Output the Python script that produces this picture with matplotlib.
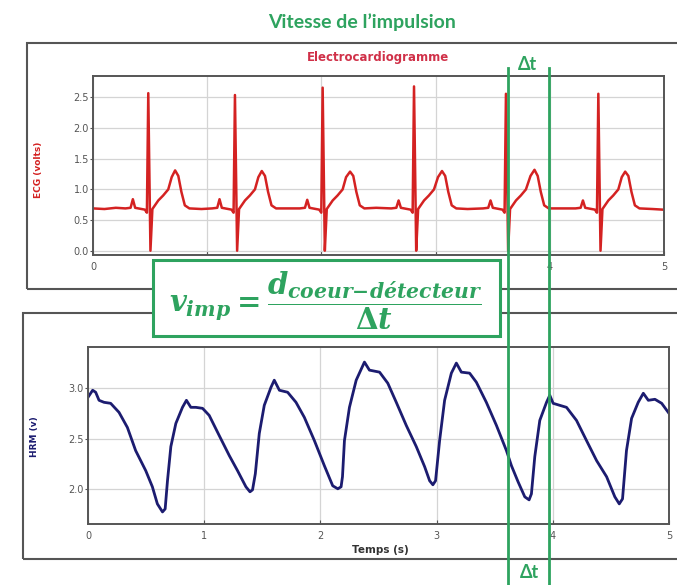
import matplotlib
matplotlib.use("Agg")
import matplotlib.pyplot as plt
from matplotlib.patches import Rectangle
from matplotlib.lines import Line2D

W, H = 677, 585

# ECG trace (s, volts), one row per heartbeat
ecg_t = [0.00, 0.10, 0.20,
         0.284, 0.329, 0.349, 0.369, 0.454, 0.472, 0.484, 0.503, 0.520, 0.572, 0.614, 0.659, 0.689, 0.719, 0.747, 0.774, 0.804, 0.844,
         0.95,
         1.043, 1.088, 1.108, 1.128, 1.213, 1.231, 1.243, 1.262, 1.279, 1.331, 1.373, 1.418, 1.448, 1.478, 1.506, 1.533, 1.563, 1.603,
         1.70,
         1.811, 1.856, 1.876, 1.896, 1.981, 1.999, 2.011, 2.030, 2.047, 2.099, 2.141, 2.186, 2.216, 2.251, 2.279, 2.306, 2.336, 2.376,
         2.48,
         2.611, 2.656, 2.676, 2.696, 2.781, 2.799, 2.811, 2.830, 2.847, 2.899, 2.941, 2.986, 3.021, 3.056, 3.084, 3.111, 3.141, 3.181,
         3.28,
         3.416, 3.461, 3.481, 3.501, 3.586, 3.604, 3.616, 3.635, 3.652, 3.704, 3.746, 3.791, 3.831, 3.866, 3.894, 3.921, 3.951, 3.991,
         4.08,
         4.225, 4.270, 4.290, 4.310, 4.395, 4.413, 4.425, 4.444, 4.461, 4.513, 4.555, 4.600, 4.630, 4.660, 4.688, 4.715, 4.745, 4.785,
         4.90, 4.99]
ecg_v = [0.69, 0.68, 0.70,
         0.69, 0.70, 0.84, 0.70, 0.67, 0.62, 2.57, 0.00, 0.68, 0.82, 0.90, 1.00, 1.20, 1.31, 1.22, 0.96, 0.74, 0.69,
         0.68,
         0.69, 0.70, 0.84, 0.70, 0.67, 0.62, 2.54, 0.00, 0.68, 0.82, 0.90, 1.00, 1.20, 1.30, 1.22, 0.96, 0.74, 0.69,
         0.69,
         0.69, 0.70, 0.83, 0.70, 0.67, 0.62, 2.66, 0.00, 0.68, 0.82, 0.90, 1.00, 1.20, 1.29, 1.22, 0.96, 0.74, 0.69,
         0.70,
         0.69, 0.70, 0.82, 0.70, 0.67, 0.62, 2.68, 0.00, 0.68, 0.82, 0.90, 1.00, 1.20, 1.30, 1.22, 0.96, 0.74, 0.69,
         0.68,
         0.69, 0.70, 0.82, 0.70, 0.67, 0.62, 2.56, 0.00, 0.68, 0.82, 0.90, 1.00, 1.22, 1.32, 1.22, 0.96, 0.74, 0.69,
         0.69,
         0.69, 0.70, 0.82, 0.70, 0.67, 0.62, 2.56, 0.00, 0.68, 0.82, 0.90, 1.00, 1.20, 1.29, 1.22, 0.96, 0.74, 0.69,
         0.68, 0.67]

# HRM (pulse sensor) trace (s, volts)
hrm_t = [0.00, 0.04, 0.066, 0.095, 0.138, 0.195, 0.267, 0.339, 0.41, 0.497, 0.554, 0.597, 0.641, 0.664,
         0.684, 0.713, 0.756, 0.813, 0.847, 0.885, 0.928, 0.986, 1.043, 1.129, 1.216, 1.287, 1.359, 1.394,
         1.416, 1.44, 1.474, 1.517, 1.575, 1.603, 1.647, 1.718, 1.79, 1.862, 1.948, 2.034, 2.106, 2.15,
         2.178, 2.19, 2.207, 2.25, 2.308, 2.379, 2.422, 2.509, 2.58, 2.653, 2.739, 2.825, 2.897, 2.94,
         2.968, 2.991, 3.026, 3.069, 3.127, 3.17, 3.213, 3.284, 3.342, 3.428, 3.515, 3.601, 3.644, 3.701,
         3.759, 3.796, 3.816, 3.845, 3.888, 3.946, 3.974, 4.003, 4.06, 4.118, 4.204, 4.29, 4.377, 4.463,
         4.534, 4.572, 4.60, 4.634, 4.678, 4.735, 4.779, 4.822, 4.879, 4.937, 5.00]
hrm_v = [2.91, 2.98, 2.96, 2.88, 2.86, 2.85, 2.76, 2.61, 2.38, 2.18, 2.02, 1.85, 1.77, 1.80,
         2.08, 2.42, 2.65, 2.81, 2.88, 2.81, 2.81, 2.80, 2.73, 2.53, 2.33, 2.18, 2.02, 1.97,
         1.99, 2.15, 2.55, 2.83, 3.01, 3.08, 2.98, 2.96, 2.86, 2.71, 2.48, 2.23, 2.03, 2.00,
         2.02, 2.12, 2.48, 2.81, 3.08, 3.26, 3.18, 3.16, 3.05, 2.86, 2.63, 2.42, 2.22, 2.08,
         2.04, 2.08, 2.48, 2.88, 3.15, 3.25, 3.16, 3.15, 3.06, 2.86, 2.63, 2.38, 2.23, 2.07,
         1.92, 1.89, 1.95, 2.32, 2.68, 2.86, 2.93, 2.85, 2.83, 2.81, 2.68, 2.48, 2.28, 2.12,
         1.92, 1.85, 1.90, 2.38, 2.70, 2.86, 2.95, 2.88, 2.89, 2.85, 2.75]

ecg_yticks = [0.0, 0.5, 1.0, 1.5, 2.0, 2.5]
hrm_yticks = [2.0, 2.5, 3.0]
xticks = [0, 1, 2, 3, 4, 5]
# top panel labels 1-3 sit under the equation box in the reference
ecg_xlabels = ["0", "", "", "", "4", "5"]
hrm_xlabels = ["0", "1", "2", "3", "4", "5"]

GREEN = "#2ea35f"
RED = "#d42222"
NAVY = "#1c1c70"
GRAY = "#555555"

plt.rcParams["mathtext.fontset"] = "custom"
plt.rcParams["mathtext.it"] = "DejaVu Serif:italic:bold"
plt.rcParams["mathtext.rm"] = "DejaVu Serif:bold"
plt.rcParams["mathtext.bf"] = "DejaVu Serif:bold"


def fx(px):
    return px / W


def fy(py):
    return 1 - py / H


def style_axes(ax, yticks, xlabels):
    ax.set_xlim(0, 5)
    ax.set_xticks(xticks)
    ax.set_xticklabels(xlabels)
    ax.set_yticks(yticks)
    ax.set_yticklabels(["%.1f" % v for v in yticks])
    ax.grid(True, color="#d4d4d4", lw=0.9)
    ax.set_axisbelow(True)
    for s in ax.spines.values():
        s.set_color(GRAY)
        s.set_linewidth(1.4)
    ax.tick_params(axis="x", direction="in", length=3, labelsize=7, colors=GRAY, pad=5)
    ax.tick_params(axis="y", direction="out", length=2, labelsize=7, colors=GRAY, pad=1)


fig = plt.figure(figsize=(W / 100, H / 100), dpi=100)

# top panel: ECG
ax1 = fig.add_axes([fx(93), fy(255), fx(664) - fx(93), fy(76) - fy(255)])
ax1.plot(ecg_t, ecg_v, color=RED, lw=1.8)
ax1.set_ylim(-0.07, 2.85)
style_axes(ax1, ecg_yticks, ecg_xlabels)

# bottom panel: HRM
ax2 = fig.add_axes([fx(88), fy(524), fx(669) - fx(88), fy(347) - fy(524)])
ax2.plot(hrm_t, hrm_v, color=NAVY, lw=2.0)
ax2.set_ylim(1.65, 3.41)
style_axes(ax2, hrm_yticks, hrm_xlabels)

# outer frames around each panel
fig.patches.append(Rectangle((fx(27), fy(289)), 1.2, fy(43) - fy(289), transform=fig.transFigure,
                             fill=False, edgecolor=GRAY, lw=1.5, zorder=1))
fig.patches.append(Rectangle((fx(23), fy(559)), 1.2, fy(313) - fy(559), transform=fig.transFigure,
                             fill=False, edgecolor=GRAY, lw=1.5, zorder=1))

fig.text(fx(362), fy(22), "Vitesse de l\u2019impulsion", color=GREEN, fontsize=14,
         fontweight="bold", family="Lato", ha="center", va="center")
fig.text(fx(378), fy(58), "Electrocardiogramme", color="#d03048", fontsize=8.5,
         fontweight="bold", family="DejaVu Sans", ha="center", va="center")
fig.text(fx(38), fy(170), "ECG (volts)", color=RED, fontsize=6.5, fontweight="bold",
         rotation=90, ha="center", va="center")
fig.text(fx(35), fy(437), "HRM (v)", color=NAVY, fontsize=6.5, fontweight="bold",
         rotation=90, ha="center", va="center")
fig.text(fx(380), fy(550), "Temps (s)", color="#333333", fontsize=7.5, fontweight="bold",
         ha="center", va="center")

# equation box
fig.patches.append(Rectangle((fx(153), fy(336)), fx(500) - fx(153), fy(260) - fy(336),
                             transform=fig.transFigure, facecolor="white", edgecolor=GREEN,
                             lw=2.2, zorder=10))
fig.text(fx(326), fy(301), r"$v_{imp} = \dfrac{d_{coeur{-}détecteur}}{\Delta t}$",
         color=GREEN, fontsize=21, ha="center", va="center", zorder=11)

# delta t markers
for x in [508, 549]:
    fig.add_artist(Line2D([fx(x), fx(x)], [fy(68), 0], transform=fig.transFigure,
                          color=GREEN, lw=2.0, zorder=12))
fig.text(fx(528), fy(64), "\u0394t", color=GREEN, fontsize=13, fontweight="bold",
         family="Lato", ha="center", va="center", zorder=12)
fig.text(fx(529), fy(572), "\u0394t", color=GREEN, fontsize=13, fontweight="bold",
         family="Lato", ha="center", va="center", zorder=12)

fig.savefig("out.png", dpi=100, facecolor="white")
